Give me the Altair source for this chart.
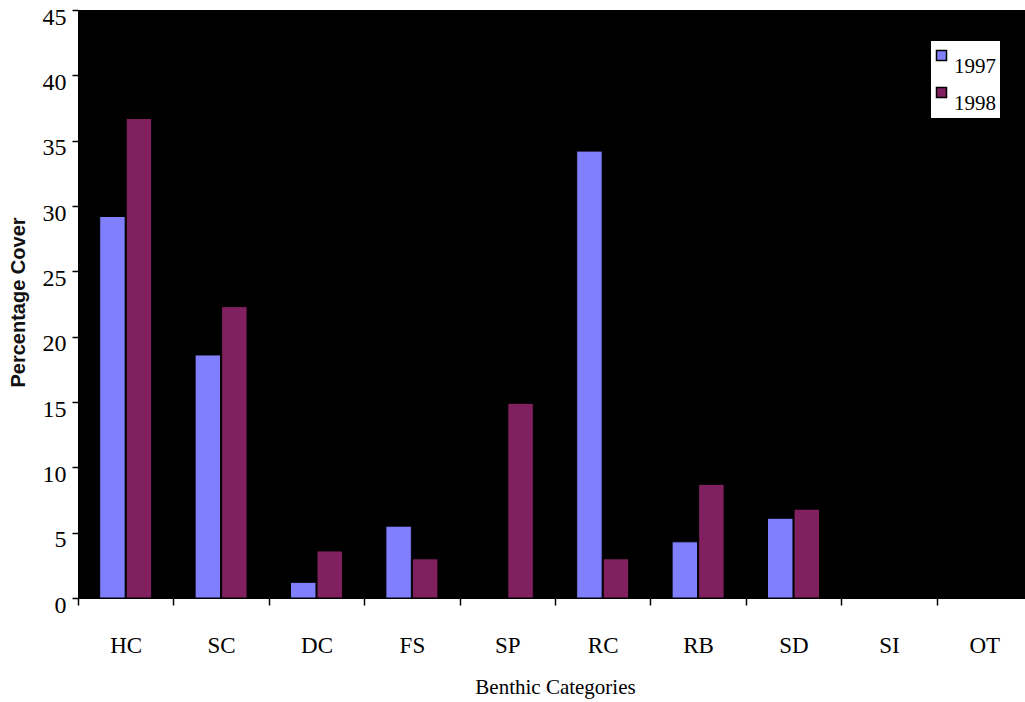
import altair as alt
import pandas as pd

# Benthic cover survey, percentage cover by category and year
categories = ["HC", "SC", "DC", "FS", "SP", "RC", "RB", "SD", "SI", "OT"]
cover_1997 = [29.2, 18.6, 1.2, 5.5, 0.0, 34.2, 4.3, 6.1, 0.0, 0.0]
cover_1998 = [36.7, 22.3, 3.6, 3.0, 14.9, 3.0, 8.7, 6.8, 0.0, 0.0]
years = ["1997", "1998"]
year_colors = ["#8080FF", "#80205F"]

rows = []
for cat, a, b in zip(categories, cover_1997, cover_1998):
    rows.append({"category": cat, "year": "1997", "cover": a})
    rows.append({"category": cat, "year": "1998", "cover": b})
df = pd.DataFrame(rows)

serif = "Liberation Serif"
sans = "Liberation Sans"

step = 95.4
n = len(categories)

bars = alt.Chart(df).mark_bar(stroke="black", strokeWidth=1).encode(
    x=alt.X(
        "category:N",
        sort=categories,
        title="Benthic Categories",
        scale=alt.Scale(range=[0, step * n], paddingInner=0.455, paddingOuter=0.2275),
        axis=alt.Axis(
            labelAngle=0,
            tickOffset=-step / 2,
            labelOffset=step / 2,
            tickSize=7,
            tickWidth=1.5,
            tickColor="black",
            domainColor="black",
            labelFont=serif,
            labelFontSize=23,
            labelColor="black",
            labelBaseline="alphabetic",
            labelPadding=47,
            titleFont=serif,
            titleFontSize=21,
            titleFontWeight="normal",
            titleColor="black",
            titleBaseline="alphabetic",
            titleY=95,
        ),
    ),
    xOffset=alt.XOffset("year:N", sort=years, scale=alt.Scale(paddingInner=0.04)),
    y=alt.Y(
        "cover:Q",
        title="Percentage Cover",
        scale=alt.Scale(domain=[0, 45], nice=False),
        axis=alt.Axis(
            values=list(range(0, 46, 5)),
            grid=False,
            tickSize=6,
            tickWidth=1.5,
            tickColor="black",
            domainColor="black",
            labelFont=serif,
            labelFontSize=24,
            labelColor="black",
            labelBaseline="alphabetic",
            labelOffset=14,
            labelPadding=6,
            titleFont=sans,
            titleFontSize=20,
            titleFontWeight="bold",
            titleColor="#111111",
            titleBaseline="middle",
            titleX=-60,
            titleY=292,
        ),
    ),
    color=alt.Color(
        "year:N",
        title=None,
        scale=alt.Scale(domain=years, range=year_colors),
        legend=alt.Legend(
            orient="none",
            legendX=853,
            legendY=31,
            fillColor="white",
            padding=4,
            symbolType="square",
            symbolSize=100,
            symbolOffset=-4,
            symbolStrokeColor="black",
            symbolStrokeWidth=1.5,
            labelFont=serif,
            labelFontSize=21,
            labelColor="black",
            labelBaseline="top",
            labelOffset=2,
            rowPadding=5,
        ),
    ),
)

chart = bars.properties(
    width=947,
    height=588,
    padding={"left": 78, "top": 10, "right": 0, "bottom": 104},
    autosize=alt.AutoSizeParams(type="none"),
    background="white",
).configure_view(
    fill="black", stroke="black", strokeWidth=1
).configure_axis(
    labelFont=serif
)

chart.save("out.html", embed_options={"renderer": "svg", "actions": False})
